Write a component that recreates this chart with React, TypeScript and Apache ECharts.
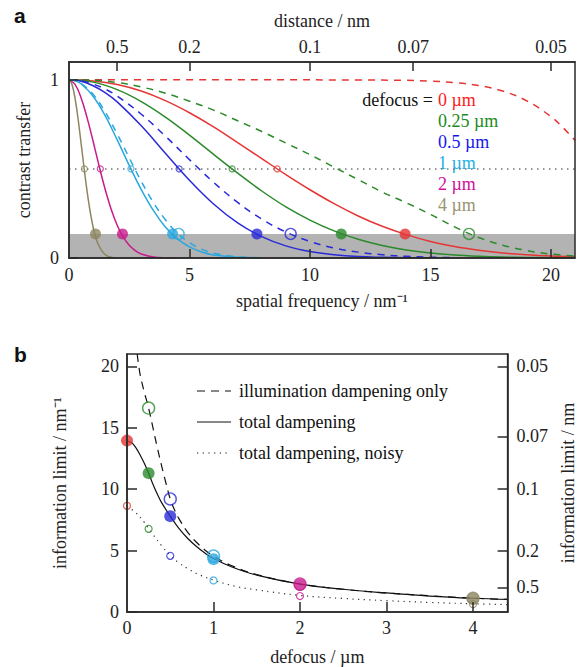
import React, { useEffect, useRef } from "react";
import * as echarts from "echarts";

// ---------- data ----------
const defocusValues = [0, 0.25, 0.5, 1, 2, 4];
const defocusLabels = ["0 µm", "0.25 µm", "0.5 µm", "1 µm", "2 µm", "4 µm"];
const lineColors = ["#e63535", "#2b8a2b", "#2a2ad8", "#2aa8de", "#c81a8c", "#8c8660"];
const labelColors = ["#ff1a1a", "#1d8a1d", "#1515f0", "#22b0e8", "#d0109a", "#9a9470"];

const grayThreshold = 0.135;
const noisyThreshold = 0.5;

// information limits (nm^-1)
const infoTotal = [13.95, 11.3, 7.8, 4.3, 2.22, 1.1];
const infoIllum = [null, 16.6, 9.2, 4.55, 2.27, 1.12];
const infoNoisy = [8.64, 6.77, 4.57, 2.57, 1.3, 0.64];

// contrast transfer curves, [spatial frequency, contrast]
const redSolid = [[0, 1], [1, 0.994], [2, 0.974], [3, 0.937], [4, 0.883], [5, 0.815], [6, 0.736], [7, 0.648], [8, 0.558], [9, 0.468], [10, 0.383], [11, 0.305], [12, 0.236], [13, 0.178], [14, 0.131], [15, 0.093], [16, 0.065], [17, 0.044], [18, 0.028], [19, 0.018], [20, 0.011], [21, 0.007]];
const redDashed = [[0, 1], [4, 1], [8, 1], [12, 0.999], [14, 0.997], [15, 0.993], [16, 0.984], [17, 0.968], [18, 0.937], [19, 0.882], [20, 0.794], [20.5, 0.732], [21, 0.66]];
const greenSolid = [[0, 1], [1, 0.987], [2, 0.945], [3, 0.878], [4, 0.791], [5, 0.69], [6, 0.582], [7, 0.476], [8, 0.376], [9, 0.287], [10, 0.213], [11, 0.152], [12, 0.105], [13, 0.07], [14, 0.045], [15, 0.028], [16, 0.017], [17, 0.01], [18, 0.0055], [19, 0.003], [20, 0.0016], [21, 0.0008]];
const greenDashed = [[0, 1], [1, 0.998], [2, 0.985], [3, 0.96], [4, 0.925], [5, 0.88], [6, 0.83], [7, 0.77], [8, 0.71], [9, 0.645], [10, 0.58], [11, 0.51], [12, 0.44], [13, 0.37], [14, 0.31], [15, 0.245], [16, 0.175], [17, 0.115], [18, 0.072], [19, 0.042], [20, 0.022], [21, 0.011]];
const blueSolid = [[0, 1], [0.5, 0.992], [1, 0.967], [1.5, 0.928], [2, 0.876], [3, 0.742], [4, 0.588], [5, 0.436], [6, 0.303], [7, 0.197], [8, 0.12], [9, 0.068], [10, 0.036], [11, 0.018], [12, 0.008], [13, 0.004], [14, 0.0015], [15, 0.0005]];
const blueDashed = [[0, 1], [0.5, 0.994], [1, 0.976], [1.5, 0.948], [2, 0.909], [3, 0.807], [4, 0.684], [5, 0.552], [6, 0.425], [7, 0.312], [8, 0.218], [9, 0.146], [10, 0.093], [11, 0.056], [12, 0.033], [13, 0.018], [14, 0.0095], [15, 0.0047], [16, 0.002]];
const cyanSolid = [[0, 1], [0.25, 0.995], [0.5, 0.978], [1, 0.908], [1.5, 0.799], [2, 0.663], [2.5, 0.52], [3, 0.384], [3.5, 0.267], [4, 0.174], [4.5, 0.107], [5, 0.062], [5.5, 0.034], [6, 0.017], [7, 0.004], [8, 0.001]];
const cyanDashed = [[0, 1], [0.25, 0.995], [0.5, 0.98], [1, 0.919], [1.5, 0.82], [2, 0.696], [2.5, 0.562], [3, 0.43], [3.5, 0.312], [4, 0.215], [4.5, 0.139], [5, 0.086], [5.5, 0.05], [6, 0.027], [7, 0.007], [8, 0.0015]];
const magentaSolid = [[0, 1], [0.25, 0.974], [0.5, 0.9], [0.75, 0.788], [1, 0.655], [1.25, 0.516], [1.5, 0.386], [1.75, 0.274], [2, 0.184], [2.25, 0.118], [2.5, 0.071], [2.75, 0.041], [3, 0.022], [3.5, 0.0056], [4, 0.0011], [4.5, 0.0002]];
const oliveSolid = [[0, 1], [0.1, 0.983], [0.2, 0.933], [0.3, 0.855], [0.4, 0.756], [0.5, 0.646], [0.6, 0.533], [0.7, 0.425], [0.8, 0.327], [0.9, 0.243], [1, 0.174], [1.1, 0.121], [1.2, 0.081], [1.4, 0.033], [1.6, 0.011], [1.8, 0.0035], [2, 0.0009]];

const solidCurves = [redSolid, greenSolid, blueSolid, cyanSolid, magentaSolid, oliveSolid];
const dashedCurves = [redDashed, greenDashed, blueDashed, cyanDashed, null, null];

// information limit vs defocus curves, [defocus, limit]
const illumOnlyCurve = [[0.118, 21], [0.15, 19.4], [0.2, 17.9], [0.25, 16.6], [0.3, 15.0], [0.35, 13.4], [0.4, 11.9], [0.45, 10.5], [0.5, 9.2], [0.55, 8.3], [0.6, 7.6], [0.7, 6.5], [0.8, 5.7], [0.9, 5.05], [1.0, 4.55], [1.2, 3.8], [1.5, 3.05], [2.0, 2.28], [2.5, 1.85], [3.0, 1.55], [3.5, 1.32], [4.0, 1.13], [4.4, 1.03]];
const totalCurve = [[0, 13.9], [0.05, 13.8], [0.1, 13.4], [0.15, 12.8], [0.2, 12.1], [0.25, 11.3], [0.3, 10.4], [0.35, 9.6], [0.4, 8.9], [0.5, 7.8], [0.6, 6.8], [0.7, 6.0], [0.8, 5.35], [0.9, 4.8], [1.0, 4.35], [1.2, 3.7], [1.5, 3.0], [2.0, 2.27], [2.5, 1.85], [3.0, 1.55], [3.5, 1.3], [4.0, 1.12], [4.4, 1.02]];
const noisyCurve = [[0, 8.6], [0.1, 8.1], [0.2, 7.3], [0.25, 6.8], [0.3, 6.3], [0.4, 5.4], [0.5, 4.6], [0.6, 4.0], [0.7, 3.55], [0.8, 3.15], [1.0, 2.6], [1.25, 2.1], [1.5, 1.8], [2.0, 1.35], [2.5, 1.1], [3.0, 0.92], [3.5, 0.78], [4.0, 0.67], [4.4, 0.6]];

// ticks
const freqTicks = [0, 5, 10, 15, 20];
const contrastTicks = [0, 1];
const topDistances = [0.5, 0.2, 0.1, 0.07, 0.05];
const defocusTicks = [0, 1, 2, 3, 4];
const limitTicks = [0, 5, 10, 15, 20];
const rightDistances = [0.05, 0.07, 0.1, 0.2, 0.5];

const bLegend = ["illumination dampening only", "total dampening", "total dampening, noisy"];

// ---------- helpers ----------
const FONT = "Liberation Serif";
const AX = "#2a2a2a";
const TXT = { color: "#222", fontFamily: FONT, fontSize: 18 };

function axisBase(extra: any) {
  return {
    type: "value",
    z: 6,
    splitLine: { show: false },
    axisLine: { show: true, lineStyle: { color: AX, width: 1.5 } },
    nameTextStyle: { ...TXT },
    nameLocation: "middle",
    ...extra,
  };
}

function ticks(values: number[], length: number) {
  return { show: true, inside: true, length, lineStyle: { color: AX, width: 1.5 }, customValues: values };
}

function distLabel(list: number[]) {
  return (v: number) => {
    const i = list.findIndex((d) => Math.abs(1 / d - v) < 1e-6);
    return i >= 0 ? String(list[i]) : "";
  };
}

function curve(data: any, color: string, xi: number, yi: number, type: any, width = 1.5) {
  return {
    type: "line",
    xAxisIndex: xi,
    yAxisIndex: yi,
    data,
    showSymbol: false,
    smooth: 0.4,
    z: 3,
    lineStyle: { color, width, type },
  };
}

export default function App() {
  const ref = useRef<HTMLDivElement>(null);

  useEffect(() => {
    if (!ref.current) return;
    const chart = echarts.init(ref.current, undefined, { renderer: "svg" });

    const series: any[] = [];

    // gray band + dotted 0.5 line (panel a)
    series.push({
      type: "line",
      xAxisIndex: 0,
      yAxisIndex: 0,
      data: [[0, 0], [21, 0]],
      showSymbol: false,
      lineStyle: { opacity: 0 },
      z: 1,
      silent: true,
      markArea: {
        silent: true,
        itemStyle: { color: "#b3b3b3", opacity: 1 },
        data: [[{ yAxis: 0 }, { yAxis: grayThreshold }]],
      },
      markLine: {
        silent: true,
        symbol: "none",
        label: { show: false },
        lineStyle: { color: "#777", type: [1.5, 4.5], width: 1.5 },
        data: [{ yAxis: noisyThreshold }],
      },
    });

    solidCurves.forEach((c, i) => series.push(curve(c, lineColors[i], 0, 0, "solid")));
    dashedCurves.forEach((c, i) => {
      if (c) series.push(curve(c, lineColors[i], 0, 0, [7, 6]));
    });

    // panel a markers
    series.push({
      type: "scatter", xAxisIndex: 0, yAxisIndex: 0, z: 5, symbolSize: 11,
      data: infoTotal.map((v, i) => ({ value: [v, grayThreshold], itemStyle: { color: lineColors[i] } })),
    });
    series.push({
      type: "scatter", xAxisIndex: 0, yAxisIndex: 0, z: 5, symbolSize: 11,
      data: infoIllum
        .map((v, i) => (v == null || i > 3 ? null : { value: [v, grayThreshold], itemStyle: { color: "rgba(0,0,0,0)", borderColor: lineColors[i], borderWidth: 1.4 } }))
        .filter((d) => d),
    });
    series.push({
      type: "scatter", xAxisIndex: 0, yAxisIndex: 0, z: 5, symbolSize: 6,
      data: infoNoisy.map((v, i) => ({ value: [v, noisyThreshold], itemStyle: { color: "rgba(0,0,0,0)", borderColor: lineColors[i], borderWidth: 1.2 } })),
    });

    // panel b curves
    series.push(curve(illumOnlyCurve, "#111", 2, 1, [8, 6], 1.2));
    series.push(curve(totalCurve, "#111", 2, 1, "solid", 1.2));
    series.push(curve(noisyCurve, "#333", 2, 1, [1.2, 4.5], 1.2));

    // panel b markers
    series.push({
      type: "scatter", xAxisIndex: 2, yAxisIndex: 1, z: 5, symbolSize: 12,
      data: infoIllum
        .map((v, i) => (v == null ? null : { value: [defocusValues[i], v], itemStyle: { color: "rgba(0,0,0,0)", borderColor: lineColors[i], borderWidth: 1.4 } }))
        .filter((d) => d),
    });
    series.push({
      type: "scatter", xAxisIndex: 2, yAxisIndex: 1, z: 5, symbolSize: 12,
      data: infoTotal.map((v, i) => ({ value: [defocusValues[i], v], itemStyle: { color: lineColors[i] } })),
    });
    series.push({
      type: "scatter", xAxisIndex: 2, yAxisIndex: 1, z: 5, symbolSize: 7,
      data: infoNoisy.map((v, i) => ({ value: [defocusValues[i], v], itemStyle: { color: "rgba(0,0,0,0)", borderColor: lineColors[i], borderWidth: 1.2 } })),
    });

    const graphic: any[] = [
      { type: "text", left: 14, top: 5, style: { text: "a", fontFamily: "Liberation Sans", fontWeight: "bold", fontSize: 21, fill: "#111" } },
      { type: "text", left: 14, top: 344, style: { text: "b", fontFamily: "Liberation Sans", fontWeight: "bold", fontSize: 21, fill: "#111" } },
      { type: "text", x: 433, y: 100, style: { text: "defocus =", fontFamily: FONT, fontSize: 18, fill: "#111", align: "right", verticalAlign: "middle" } },
    ];
    defocusLabels.forEach((t, i) => {
      graphic.push({
        type: "text",
        x: 438,
        y: 100 + i * 21,
        style: { text: t, fontFamily: FONT, fontSize: 18, fill: labelColors[i], align: "left", verticalAlign: "middle" },
      });
    });
    const legY = [391, 422, 453];
    const legDash = [[8, 6], null, [1.2, 4.5]];
    bLegend.forEach((t, i) => {
      graphic.push({
        type: "line",
        shape: { x1: 197, y1: legY[i], x2: 231, y2: legY[i] },
        style: { stroke: "#111", lineWidth: 1.2, lineDash: legDash[i] || null },
      });
      graphic.push({
        type: "text",
        x: 239,
        y: legY[i],
        style: { text: t, fontFamily: FONT, fontSize: 18, fill: "#111", align: "left", verticalAlign: "middle" },
      });
    });

    chart.setOption({
      animation: false,
      backgroundColor: "#fff",
      textStyle: { fontFamily: FONT },
      grid: [
        { left: 69, right: 10, top: 62, bottom: 409, show: true, borderColor: AX, borderWidth: 1.5, backgroundColor: "transparent", z: 6 },
        { left: 127, right: 76, top: 354, bottom: 54, show: true, borderColor: AX, borderWidth: 1.5, backgroundColor: "transparent", z: 6 },
      ],
      xAxis: [
        axisBase({
          gridIndex: 0, position: "bottom", min: 0, max: 21,
          name: "spatial frequency / nm⁻¹", nameGap: 34,
          axisLabel: { ...TXT, margin: 8, customValues: freqTicks },
          axisTick: ticks(freqTicks.filter((v) => v > 0), 9),
        }),
        axisBase({
          gridIndex: 0, position: "top", min: 0, max: 21,
          name: "distance / nm", nameGap: 32,
          axisLabel: { ...TXT, margin: 6, customValues: topDistances.map((d) => 1 / d), formatter: distLabel(topDistances) },
          axisTick: ticks(topDistances.map((d) => 1 / d), 9),
        }),
        axisBase({
          gridIndex: 1, position: "bottom", min: 0, max: 4.4,
          name: "defocus / µm", nameGap: 36,
          axisLabel: { ...TXT, margin: 7, customValues: defocusTicks },
          axisTick: ticks(defocusTicks.filter((v) => v > 0), 10),
        }),
      ],
      yAxis: [
        axisBase({
          gridIndex: 0, position: "left", min: 0, max: 1.1,
          name: "contrast transfer", nameGap: 36, nameRotate: 90,
          axisLabel: { ...TXT, margin: 10, customValues: contrastTicks },
          axisTick: ticks(contrastTicks, 9),
        }),
        axisBase({
          gridIndex: 1, position: "left", min: 0, max: 21,
          name: "information limit / nm⁻¹", nameGap: 58, nameRotate: 90,
          axisLabel: { ...TXT, margin: 8, customValues: limitTicks },
          axisTick: ticks(limitTicks, 10),
        }),
        axisBase({
          gridIndex: 1, position: "right", min: 0, max: 21,
          name: "information limit / nm", nameGap: 50, nameRotate: 90,
          axisLabel: { ...TXT, margin: 9, customValues: rightDistances.map((d) => 1 / d), formatter: distLabel(rightDistances) },
          axisTick: ticks(rightDistances.map((d) => 1 / d), 10),
        }),
      ],
      series,
      graphic,
    });

    return () => chart.dispose();
  }, []);

  return <div ref={ref} style={{ position: "fixed", left: 0, top: 0, width: 585, height: 667, background: "#fff" }} />;
}
